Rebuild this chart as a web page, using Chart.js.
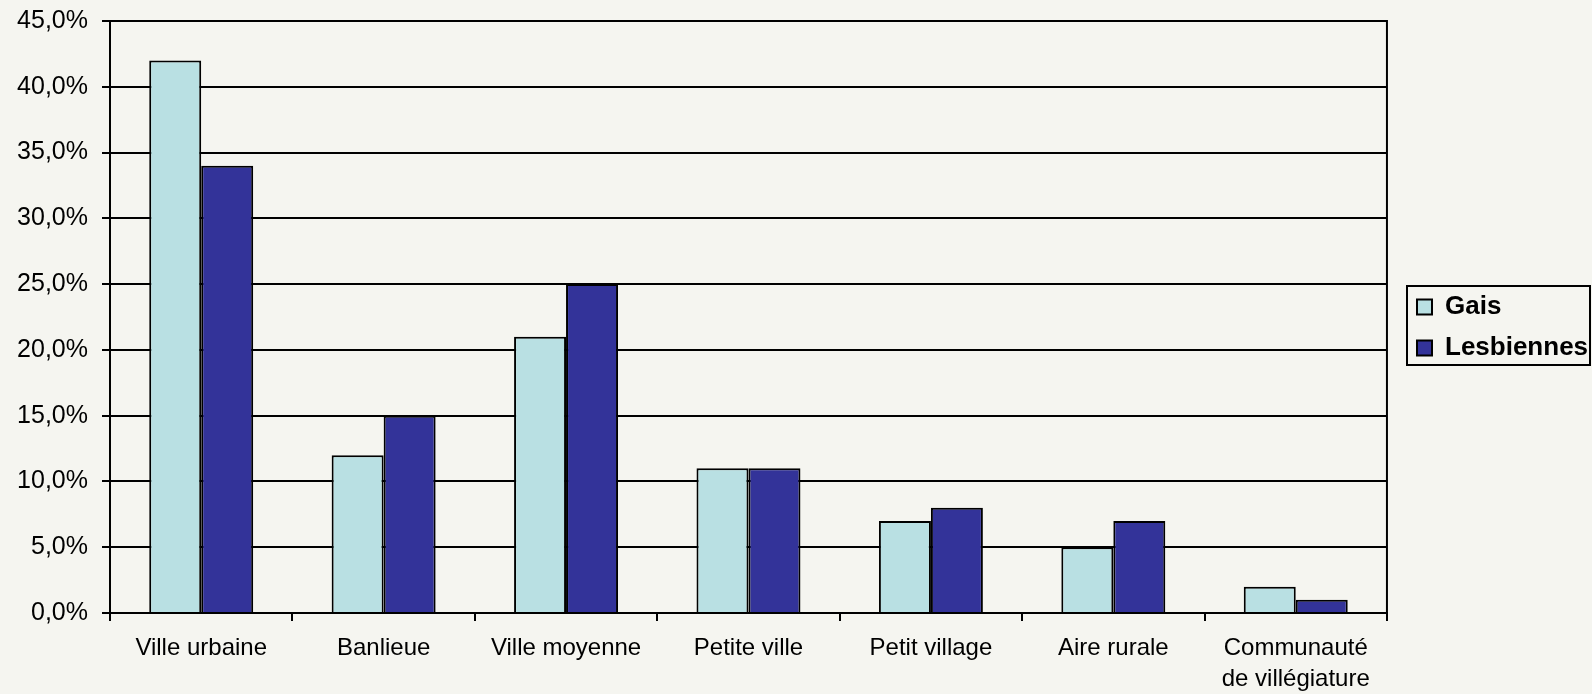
<!DOCTYPE html>
<html>
<head>
<meta charset="utf-8">
<script src="https://cdn.jsdelivr.net/npm/chart.js@4"></script>
<style>
  html, body { margin: 0; padding: 0; background: #f5f5f0; }
  #wrap { width: 1592px; height: 694px; }
</style>
</head>
<body>
<div id="wrap"><canvas id="graphe"></canvas></div>
<script>
// données
const categories = ['Ville urbaine', 'Banlieue', 'Ville moyenne', 'Petite ville', 'Petit village', 'Aire rurale', ['Communauté', 'de villégiature']];
const gais = [42, 12, 21, 11, 7, 5, 2];
const lesbiennes = [34, 15, 25, 11, 8, 7, 1];
const yMax = 45;
const yStep = 5;

const police = '"Liberation Sans", Arial, sans-serif';
const legendPadding = 15;

// cadre autour de la zone du graphique + placement et bordure de la légende
const cadre = {
    id: 'cadre',
    afterLayout(chart) {
        const lg = chart.legend;
        const boxes = lg.legendHitBoxes;
        if (!boxes || !boxes.length || !lg.columnSizes) return;
        const dx = 1402 - lg.left;
        lg.left += dx; lg.right += dx;
        const colH = lg.columnSizes[0].height;
        const y0 = ((lg.top + legendPadding) + (lg.bottom - colH)) / 2;
        const dy = 307 - (y0 + boxes[0].height / 2);
        lg.top += dy; lg.bottom += dy;
    },
    afterDraw(chart) {
        const ctx = chart.ctx;
        const a = chart.chartArea;
        ctx.save();
        ctx.strokeStyle = '#000';
        ctx.lineWidth = 2;
        ctx.strokeRect(a.left, a.top, a.right - a.left, a.bottom - a.top);
        // bordure légende
        const boxes = chart.legend.legendHitBoxes;
        if (boxes && boxes.length) {
            const first = boxes[0];
            const last = boxes[boxes.length - 1];
            const left = first.left - 10;
            const top = first.top + first.height / 2 - 21;
            const bottom = last.top + last.height / 2 + 17;
            ctx.strokeRect(left, top, 183, bottom - top);
        }
        ctx.restore();
    }
};

let graphe = new Chart(document.getElementById('graphe'), {
    type: 'bar',
    data: {
        labels: categories,
        datasets: [{
            label: 'Gais',
            data: gais,
            backgroundColor: '#b9e0e3',
            borderColor: '#000',
            borderWidth: 2
        }, {
            label: 'Lesbiennes',
            data: lesbiennes,
            backgroundColor: '#333399',
            borderColor: '#000',
            borderWidth: 2
        }]
    },
    options: {
        responsive: true,
        maintainAspectRatio: false,
        animation: false,
        layout: {
            autoPadding: false,
            padding: { top: 21, right: 9, left: 0, bottom: 0 }
        },
        datasets: {
            bar: {
                categoryPercentage: 0.57,
                barPercentage: 1
            }
        },
        plugins: {
            tooltip: { enabled: false },
            legend: {
                position: 'right',
                align: 'center',
                labels: {
                    color: '#000',
                    boxWidth: 15,
                    boxHeight: 15,
                    padding: legendPadding,
                    font: { family: police, size: 26, weight: 'bold' }
                }
            }
        },
        scales: {
            x: {
                afterFit: s => { s.height = 81; },
                grid: {
                    offset: true,
                    drawOnChartArea: false,
                    drawTicks: true,
                    tickLength: 8,
                    color: '#000',
                    lineWidth: 2
                },
                border: { color: '#000', width: 2 },
                ticks: {
                    color: '#000',
                    padding: 12,
                    maxRotation: 0,
                    autoSkip: false,
                    font: { family: police, size: 24, lineHeight: 1.3 }
                }
            },
            y: {
                min: 0,
                max: yMax,
                afterFit: s => { s.width = 110; s.paddingTop = 0; s.paddingBottom = 0; },
                grid: {
                    color: '#000',
                    lineWidth: 2,
                    tickLength: 8
                },
                border: { color: '#000', width: 2 },
                ticks: {
                    stepSize: yStep,
                    color: '#000',
                    padding: 14,
                    font: { family: police, size: 25, lineHeight: 0.6 },
                    callback: v => v.toFixed(1).replace('.', ',') + '%'
                }
            }
        }
    },
    plugins: [cadre]
});
</script>
</body>
</html>
